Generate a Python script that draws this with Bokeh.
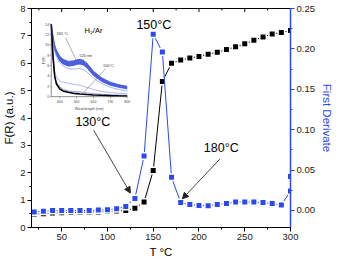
from bokeh.plotting import figure
from bokeh.models import (Range1d, LinearAxis, Arrow, NormalHead, Label, FixedTicker,
                          PrintfTickFormatter, AllLabels)
from bokeh.core.properties import value
from bokeh.embed import file_html
from bokeh.resources import INLINE

# ---------------- data ----------------
temps = [20, 30, 40, 50, 60, 70, 80, 90, 100, 110, 120, 130, 140, 150, 160, 170, 180,
         190, 200, 210, 220, 230, 240, 250, 260, 270, 280, 290, 300]
fr_values = [0.49, 0.50, 0.53, 0.54, 0.55, 0.56, 0.56, 0.57, 0.58, 0.60, 0.62, 0.70, 0.93,
             2.08, 5.33, 6.00, 6.12, 6.19, 6.25, 6.33, 6.40, 6.50, 6.60, 6.71, 6.84, 6.96,
             7.07, 7.12, 7.20]
deriv_temps = [20, 30, 40, 50, 60, 70, 80, 90, 100, 110, 120, 130, 140, 150, 160, 170, 180,
               190, 200, 210, 220, 230, 240, 250, 260, 270, 280, 290, 300, 300]
deriv_values = [-0.002, -0.001, 0.0, 0.0, 0.0, 0.0, 0.0, 0.0005, 0.001, 0.002, 0.005, 0.0147,
                0.0674, 0.218, 0.196, 0.041, 0.0098, 0.0074, 0.0062, 0.0058, 0.0074, 0.0085,
                0.0104, 0.0104, 0.0104, 0.0097, 0.0085, 0.0069, 0.024, 0.042]
x_ticks = [50, 100, 150, 200, 250, 300]
x_minor = [25, 75, 125, 175, 225, 275]
y_ticks = [0, 1, 2, 3, 4, 5, 6, 7, 8]
d_ticks = [0.0, 0.05, 0.10, 0.15, 0.20, 0.25]

# inset spectra
wl = [350, 360, 370, 380, 400, 420, 450, 480, 500, 520, 540, 560, 600, 650, 700, 750, 800]
band_upper = [14.0, 11.9, 10.0, 9.0, 7.8, 7.2, 6.8, 6.9, 7.1, 7.2, 7.0, 6.5, 4.9, 3.6, 2.8, 2.3, 2.0]
band_lower = [13.6, 11.1, 9.1, 8.1, 6.9, 6.3, 5.9, 6.0, 6.2, 6.3, 6.1, 5.6, 4.1, 2.9, 2.2, 1.8, 1.5]
curve_a = [13.5, 10.5, 8.8, 7.8, 6.6, 5.9, 5.4, 5.3, 5.4, 5.4, 5.2, 4.8, 3.6, 2.5, 1.8, 1.4, 1.1]
curve_b = [12.0, 7.0, 4.8, 3.8, 3.0, 2.8, 2.6, 2.4, 2.3, 2.2, 2.0, 1.8, 1.4, 1.0, 0.8, 0.65, 0.55]
curve_c = [12.5, 7.5, 4.0, 2.8, 1.9, 1.4, 1.1, 1.0, 0.95, 0.9, 0.8, 0.7, 0.55, 0.45, 0.35, 0.3, 0.25]
curve_black = [14.0, 8.0, 4.0, 2.5, 1.5, 1.1, 0.85, 0.65, 0.58, 0.5, 0.45, 0.4, 0.33, 0.26, 0.2, 0.16, 0.13]
inset_xticks = [400, 500, 600, 700, 800]
inset_yticks = [0, 2, 4, 6, 8, 10, 12, 14]

# ---------------- style / layout ----------------
FONT = "Liberation Sans"
BLUE = "#2a48f5"
X0, X1 = 17, 300
Y0, Y1 = 0, 8
R0, R1 = -0.0211, 0.25

p = figure(width=335, height=260, output_backend="svg", toolbar_location=None,
           x_range=Range1d(X0, X1), y_range=Range1d(Y0, Y1))
p.min_border_top = 8
p.min_border_left = 0
p.min_border_right = 0
p.min_border_bottom = 0
p.grid.visible = False
p.outline_line_color = "black"
p.background_fill_color = "white"

# inset placement inside main frame (main data coords of the inset's 350..800 / 0..14 box)
IX = (38.6, 121.6)
IY = (4.78, 7.43)
sx = (800 - 350) / (IX[1] - IX[0])
sy = (14 - 0) / (IY[1] - IY[0])
p.extra_x_ranges = {"wl": Range1d(350 + (X0 - IX[0]) * sx, 350 + (X1 - IX[0]) * sx)}
p.extra_y_ranges = {"fr": Range1d(0 + (Y0 - IY[0]) * sy, 0 + (Y1 - IY[0]) * sy),
                    "deriv": Range1d(R0, R1)}

LABEL_SIZE = "9.5px"

def style_axis(ax, color="black", label_color="black"):
    ax.axis_line_color = color
    ax.major_tick_line_color = color
    ax.minor_tick_line_color = color
    ax.major_label_text_font = FONT
    ax.major_label_text_font_size = LABEL_SIZE
    ax.major_label_text_color = "#222222"
    ax.axis_label_text_font = FONT
    ax.axis_label_text_font_size = "11.5px"
    ax.axis_label_text_font_style = "normal"
    ax.axis_label_text_color = label_color
    ax.major_tick_out = 4
    ax.major_tick_in = 0
    ax.minor_tick_out = 2
    ax.minor_tick_in = 0
    ax.major_label_standoff = 2
    ax.axis_label_standoff = 2
    ax.major_label_policy = AllLabels()

xa = p.xaxis[0]
xa.ticker = FixedTicker(ticks=x_ticks, minor_ticks=x_minor)
xa.axis_label = "T °C"
style_axis(xa)
xa.axis_label_standoff = 3
ya = p.yaxis[0]
ya.ticker = FixedTicker(ticks=y_ticks, minor_ticks=[v + 0.5 for v in y_ticks[:-1]])
ya.axis_label = "F(R) (a.u.)"
style_axis(ya)

# top tick label of the left axis (drawn explicitly so it is always shown)
p.add_layout(Label(x=X0, y=y_ticks[-1], text=str(y_ticks[-1]), x_offset=-6,
                   text_align="right", text_baseline="middle", text_font=FONT,
                   text_font_size=LABEL_SIZE, text_color="#222222"))

ra = LinearAxis(y_range_name="deriv", axis_label="First Derivate",
                ticker=FixedTicker(ticks=d_ticks, minor_ticks=[0.025, 0.075, 0.125, 0.175, 0.225]),
                formatter=PrintfTickFormatter(format="%.2f"))
style_axis(ra, color=BLUE, label_color=BLUE)
ra.axis_line_width = 1.5
ra.axis_label_standoff = 3
p.add_layout(ra, "right")

# top frame ticks (inward)
p.segment(x0=x_ticks, y0=[Y1] * len(x_ticks), x1=x_ticks, y1=[Y1 - 0.13] * len(x_ticks),
          line_color="black", line_width=1)
p.segment(x0=x_minor, y0=[Y1] * len(x_minor), x1=x_minor, y1=[Y1 - 0.07] * len(x_minor),
          line_color="black", line_width=1)

# ---------------- main series ----------------
p.line(temps, fr_values, line_color="black", line_width=1)
p.scatter(temps, fr_values, marker="square", size=6.5, fill_color="black",
          line_color="white", line_width=1.5)
p.line(deriv_temps, deriv_values, y_range_name="deriv", line_color=BLUE, line_width=1)
p.scatter(deriv_temps, deriv_values, y_range_name="deriv", marker="square", size=6.5,
          fill_color=BLUE, line_color="white", line_width=1.5)

# ---------------- annotations ----------------
ann_text = ["150°C", "130°C", "180°C"]
ann_x = [150.7, 84.0, 224.3]
ann_y = [7.4, 3.85, 2.9]
for t, ax_, ay_ in zip(ann_text, ann_x, ann_y):
    p.add_layout(Label(x=ax_, y=ay_, text=t, text_font=FONT, text_font_size="12.5px",
                       text_align="center", text_baseline="middle", text_color="black"))

arrows = [((85.0, 3.55), (125.0, 1.26)), ((222.8, 2.5), (181.9, 1.05))]
for (xs, ys), (xe, ye) in arrows:
    p.add_layout(Arrow(end=NormalHead(size=6, fill_color="#222222", line_color="#222222"),
                       x_start=xs, y_start=ys, x_end=xe, y_end=ye,
                       line_color="#333333", line_width=0.9))

# ---------------- inset ----------------
kw = dict(x_range_name="wl", y_range_name="fr")
p.varea(x=wl, y1=band_lower, y2=band_upper, fill_color="#2d44d6", fill_alpha=0.85, **kw)
p.line(wl, band_upper, line_color="#3148e0", line_width=0.8, **kw)
p.line(wl, band_lower, line_color="#3148e0", line_width=0.8, **kw)
p.line(wl, curve_a, line_color="#8f9df0", line_width=0.8, **kw)
p.line(wl, curve_b, line_color="#9aa6f0", line_width=0.8, **kw)
p.line(wl, curve_c, line_color="#6d7fe8", line_width=0.8, **kw)
p.line(wl, curve_black, line_color="black", line_width=1.6, **kw)

# inset axes
p.segment(x0=[350, 350], y0=[0, 0], x1=[350, 800], y1=[14, 0], line_color="#444444",
          line_width=0.6, **kw)
p.segment(x0=inset_xticks, y0=[0] * len(inset_xticks), x1=inset_xticks,
          y1=[-0.35] * len(inset_xticks), line_color="#444444", line_width=0.5, **kw)
p.segment(x0=[350] * len(inset_yticks), y0=inset_yticks, x1=[342] * len(inset_yticks),
          y1=inset_yticks, line_color="#444444", line_width=0.5, **kw)
p.text(x=inset_xticks, y=[-0.6] * len(inset_xticks), text=[str(v) for v in inset_xticks],
       text_font=value(FONT), text_font_size="3.5px", text_align="center",
       text_baseline="top", text_color="#444444", **kw)
p.text(x=[338] * len(inset_yticks), y=inset_yticks, text=[str(v) for v in inset_yticks],
       text_font=value(FONT), text_font_size="3.5px", text_align="right",
       text_baseline="middle", text_color="#444444", **kw)
p.text(x=[575], y=[-2.0], text=["Wavelength (nm)"], text_font=value(FONT),
       text_font_size="3.8px", text_align="center", text_baseline="top",
       text_color="#444444", **kw)
p.text(x=[305], y=[7], text=["F(R)"], text_font=value(FONT), text_font_size="3.8px",
       text_align="center", text_baseline="middle", angle=1.5708, text_color="#444444", **kw)
p.text(x=[600], y=[12.8], text=["H₂/Ar"], text_font=value(FONT), text_font_size="7.5px",
       text_align="center", text_baseline="middle", text_color="black", **kw)
p.text(x=[415, 555, 688], y=[12.0, 7.8, 6.0], text=["180 °C", "520 nm", "100°C"],
       text_font=value(FONT), text_font_size="3.8px", text_align="center",
       text_baseline="middle", text_color="#333333", **kw)
p.segment(x0=[435, 545, 673], y0=[11.4, 7.3, 5.4], x1=[500, 535, 545], y1=[6.9, 6.8, 0.9],
          line_color="#777777", line_width=0.6, **kw)

open("out.html", "w").write(file_html(p, INLINE))
